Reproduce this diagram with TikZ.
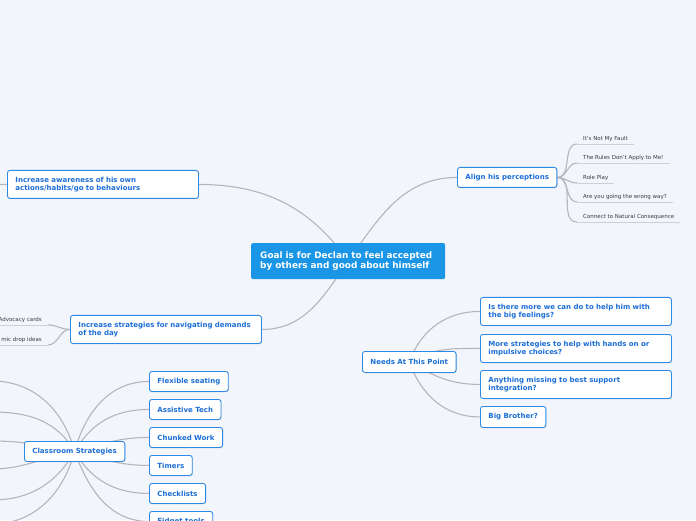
\documentclass[tikz,border=0pt]{standalone}
\usepackage{fontspec}
\setmainfont{DejaVu Sans}
\usepackage{xcolor}
\usepackage{tikz}
\usetikzlibrary{shadows,backgrounds}
\definecolor{mapbg}{HTML}{F2F5FC}
\definecolor{topicblue}{HTML}{2E89E4}
\definecolor{topictext}{HTML}{1C6ED6}
\definecolor{centralblue}{HTML}{1B95E6}
\definecolor{linkgray}{HTML}{B4B6BA}
\definecolor{leafgray}{HTML}{3A3A3A}
\definecolor{ulgray}{HTML}{CDD0D6}
\hyphenpenalty=10000
\exhyphenpenalty=10000

\begin{document}
\begin{tikzpicture}[x=1pt,y=1pt,
  link/.style={draw=linkgray,line width=1.1pt},
  uline/.style={draw=ulgray,line width=0.9pt},
  topic/.style={draw=topicblue,fill=white,line width=0.9pt,rounded corners=2.5pt,
    text=topictext,font=\fontsize{7}{8.7}\selectfont\bfseries,align=left,anchor=north west,
    inner xsep=8pt,inner ysep=0pt,minimum height=20pt,
    drop shadow={shadow xshift=0.6pt,shadow yshift=-0.8pt,opacity=0.2}},
  wide/.style={text width=175pt,minimum height=28pt},
  leaf/.style={font=\fontsize{5.5}{6.5}\selectfont,text=leafgray,inner xsep=6pt,inner ysep=2.5pt}]
\useasboundingbox (0,0) rectangle (696,520);
\clip (0,0) rectangle (696,520);

\node[fill=centralblue,rounded corners=1.5pt,text=white,font=\fontsize{8.9}{10.3}\selectfont\bfseries,
  align=left,anchor=north west,text width=176pt,inner xsep=9pt,minimum height=36pt](goal)at(251,277)
  {Goal is for Declan to feel accepted by others and good about himself};

\node[topic,wide](aware)at(7,350){Increase awareness of his own actions/habits/go to behaviours};
\node[topic](align)at(457,353){Align his perceptions};
\node[topic,wide](strat)at(70,205){Increase strategies for navigating demands of the day};

\node[leaf,anchor=south west](p1)at(577,376){It's Not My Fault};
\node[leaf,anchor=south west](p2)at(577,357){The Rules Don't Apply to Me!};
\node[leaf,anchor=south west](p3)at(577,337){Role Play};
\node[leaf,anchor=south west](p4)at(577,318){Are you going the wrong way?};
\node[leaf,anchor=south west](p5)at(577,298){Connect to Natural Consequence};
\node[leaf,anchor=south east](s1)at(48,195){Advocacy cards};
\node[leaf,anchor=south east](s2)at(48,175){mic drop ideas};

\node[topic,minimum height=21pt](needs)at(362,169){Needs At This Point};
\node[topic,wide](q1)at(480,223){Is there more we can do to help him with the big feelings?};
\node[topic,wide](q2)at(480,186){More strategies to help with hands on or impulsive choices?};
\node[topic,wide](q3)at(480,150){Anything missing to best support integration?};
\node[topic,minimum height=21pt](q4)at(480,114){Big Brother?};

\node[topic](class)at(24,79){Classroom Strategies};
\node[topic](flex)at(149,149){Flexible seating};
\node[topic](assist)at(149,121){Assistive Tech};
\node[topic](chunk)at(149,93){Chunked Work};
\node[topic](timers)at(149,65){Timers};
\node[topic](check)at(149,37){Checklists};
\node[topic](fidget)at(149,9){Fidget tools};

\coordinate(awareleft)at(-20,335);
\coordinate(c1)at(-8,139);
\coordinate(c2)at(-8,108);
\coordinate(c3)at(-8,79);
\coordinate(c4)at(-8,51);
\coordinate(c5)at(-8,20);
\coordinate(c6)at(-8,-4);

\begin{scope}[on background layer]
\clip (0,0) rectangle (696,520);
\fill[mapbg] (0,0) rectangle (696,520);
\draw[link](goal.center)to[out=125,in=0](aware.east);
\draw[link](goal.center)to[out=55,in=180](align.west);
\draw[link](goal.center)to[out=-125,in=0](strat.east);
\draw[link](aware.west)--(awareleft);
\foreach \p in {p1,p2,p3,p4,p5}{
  \draw[link](align.east)to[out=0,in=180](\p.south west);
  \draw[uline](\p.south west)--(\p.south east);}
\foreach \s in {s1,s2}{
  \draw[link](strat.west)to[out=180,in=0](\s.south east);
  \draw[uline](\s.south west)--(\s.south east);}
\draw[link](needs.center)to[out=70,in=180](q1.west);
\draw[link](needs.center)to[out=30,in=180](q2.west);
\draw[link](needs.center)to[out=-30,in=180](q3.west);
\draw[link](needs.center)to[out=-70,in=180](q4.west);
\draw[link](class.center)to[out=75,in=180](flex.west);
\draw[link](class.center)to[out=60,in=180](assist.west);
\draw[link](class.center)to[out=15,in=180](chunk.west);
\draw[link](class.center)to[out=-15,in=180](timers.west);
\draw[link](class.center)to[out=-60,in=180](check.west);
\draw[link](class.center)to[out=-70,in=180](fidget.west);
\draw[link](class.center)to[out=105,in=0](c1);
\draw[link](class.center)to[out=120,in=0](c2);
\draw[link](class.center)to[out=170,in=0](c3);
\draw[link](class.center)to[out=190,in=0](c4);
\draw[link](class.center)to[out=240,in=0](c5);
\draw[link](class.center)to[out=255,in=0](c6);
\end{scope}
\end{tikzpicture}
\end{document}
